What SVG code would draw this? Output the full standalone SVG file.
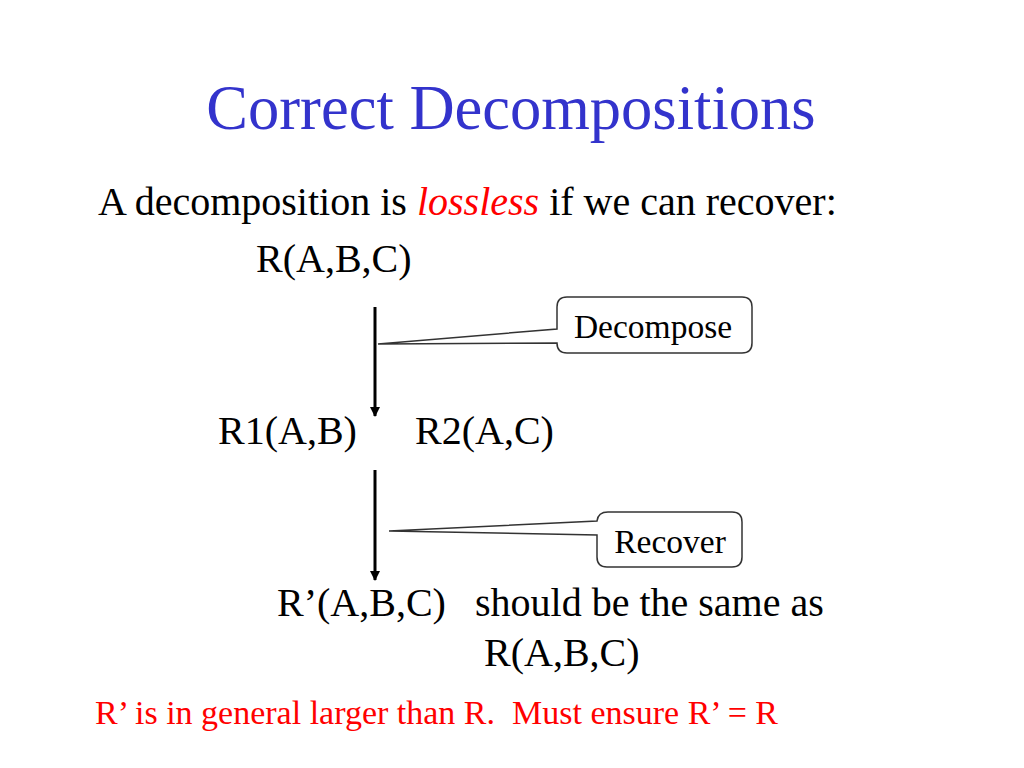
<svg xmlns="http://www.w3.org/2000/svg" width="1024" height="768" viewBox="0 0 1024 768">
<style>
  text { font-family: "Liberation Serif", "Times New Roman", serif; fill: #000; }
  .title { font-size: 62.5px; fill: #3333cc; }
  .body { font-size: 40px; }
  .red { fill: #ff0000; }
  .note { font-size: 34px; fill: #ff0000; }
  .call { font-size: 33.5px; }
  .callout { fill: #fff; stroke: #333; stroke-width: 1.5; }
  .arrow { stroke: #000; stroke-width: 3; fill: none; marker-end: url(#ah); }
</style>
<defs>
  <marker id="ah" viewBox="0 0 10 10" refX="9" refY="5" markerWidth="3.4" markerHeight="3.4" orient="auto" markerUnits="strokeWidth">
    <path d="M0,0 L10,5 L0,10 Z" fill="#000"/>
  </marker>
</defs>
<rect width="1024" height="768" fill="#fff"/>
<g id="title"><text class="title" x="511" y="129" text-anchor="middle">Correct Decompositions</text></g>
<g id="intro"><text class="body" x="98" y="215">A decomposition is <tspan class="red" font-style="italic">lossless</tspan> if we can recover:</text></g>
<g id="r"><text class="body" x="256" y="272">R(A,B,C)</text></g>
<g id="r1"><text class="body" x="218" y="444">R1(A,B)</text></g>
<g id="r2"><text class="body" x="415" y="444">R2(A,C)</text></g>
<g id="rprime"><text class="body" x="277" y="616">R’(A,B,C)</text></g>
<g id="same"><text class="body" x="475" y="616">should be the same as</text><text class="body" x="484" y="666">R(A,B,C)</text></g>
<g id="connectors">
  <line class="arrow" x1="375" y1="307" x2="375" y2="416"/>
  <line class="arrow" x1="375" y1="470" x2="375" y2="580"/>
</g>
<g id="decompose">
  <path class="callout" d="M567,297 H742 Q752,297 752,307 V343 Q752,353 742,353 H567 Q557,353 557,343 L378,344 L557,329 V307 Q557,297 567,297 Z"/>
  <text class="call" x="653" y="338" text-anchor="middle">Decompose</text>
</g>
<g id="recover">
  <path class="callout" d="M608,512 H732 Q742,512 742,522 V557 Q742,567 732,567 H607 Q597,567 597,557 V535 L389,531 L597,521 Q598,512 608,512 Z"/>
  <text class="call" x="670" y="553" text-anchor="middle">Recover</text>
</g>
<g id="footnote"><text class="note" x="95" y="724" xml:space="preserve">R’ is in general larger than R.  Must ensure R’ = R</text></g>
</svg>
